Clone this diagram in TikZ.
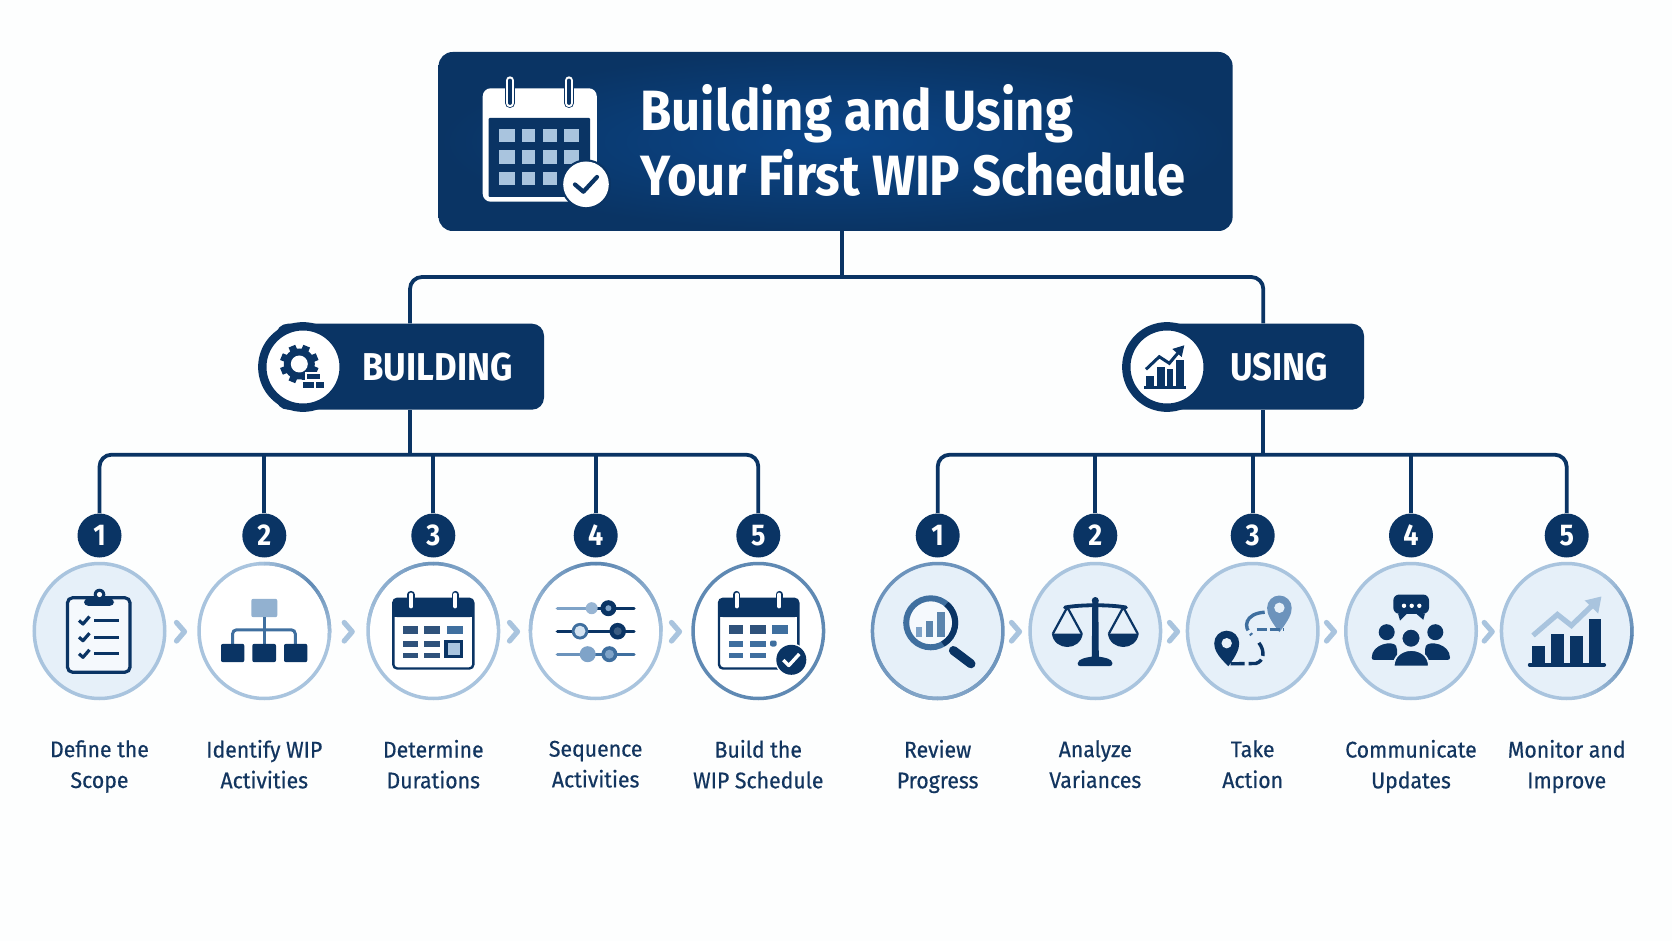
\documentclass[tikz,border=0pt]{standalone}
\usepackage{fontspec}
\usetikzlibrary{shapes.geometric}
\newfontfamily\lblfont{Fira Sans}[FakeStretch=0.94,FakeBold=0.5]
\newfontfamily\headfont{Fira Sans}[FakeStretch=0.895]
\definecolor{navy}{HTML}{0A3464}
\definecolor{navyb}{HTML}{0B4689}
\definecolor{midb}{HTML}{3F6F9F}
\definecolor{softb}{HTML}{7FA3C8}
\definecolor{paleb}{HTML}{A9C4DE}
\definecolor{iceb}{HTML}{E6F0F9}
\definecolor{lbl}{HTML}{12355F}
\definecolor{bgc}{HTML}{FDFEFE}
\newcommand\ls{\vphantom{Agy}}
\tikzset{
  conn/.style={draw=navy,line width=1.9pt},
  headbox/.style={rectangle,rounded corners=7pt,minimum width=397pt,minimum height=89.5pt,inner sep=0pt,inner color=navyb,outer color=navy},
  barbox/.style={rectangle,fill=navy,rounded corners=6pt,minimum height=43pt,inner sep=0pt},
  ringbox/.style={circle,fill=white,draw=navy,line width=4.2pt,minimum size=40.7pt,inner sep=0pt},
  numbox/.style={circle,fill=navy,text=white,minimum size=22pt,inner sep=0pt,font=\headfont\bfseries\fontsize{15}{15}\selectfont},
  bigbox/.style={ellipse,minimum width=65.25pt,minimum height=67.5pt,inner sep=0pt,line width=1.75pt},
  lblbox/.style={align=center,text=lbl,inner sep=0pt,font=\lblfont\fontsize{11.3}{15.4}\selectfont},
  bartext/.style={anchor=base,text=white,inner sep=0pt,font=\headfont\bfseries\fontsize{19.4}{20}\selectfont},
  titletext/.style={anchor=base west,text=white,inner sep=0pt,font=\headfont\bfseries\fontsize{28.4}{30}\selectfont},
  chevmark/.style={draw=paleb,line width=2.6pt,line cap=round,line join=round},
}
% gradient accent on a circle's stroke
\newcommand\glowarc[5]{%
  \foreach \i in {-10,...,9}{%
    \pgfmathsetmacro\sa{#2+#3*\i/10}%
    \pgfmathsetmacro\sb{#2+#3*(\i+1)/10+0.5}%
    \pgfmathsetmacro\mx{100*(1-abs(\i+0.5)/10)}%
    \draw[line width=1.75pt,color={#4!\mx!#5}] ({#1+65.25*cos(\sa)},{631+67.5*sin(\sa)}) arc[start angle=\sa,end angle=\sb,x radius=65.25,y radius=67.5];
  }}
\newcommand\chevat[1]{\draw[chevmark] (#1+1.5,622.5) -- (#1+9.5,631.7) -- (#1+1.5,641);}
\newcommand\calrings[2]{%
  \draw[navy,line width=3.6pt,line cap=round] (#1,-37) -- (#1,-25);
  \draw[white,line width=1.9pt,line cap=round] (#1,-37) -- (#1,-25);
  \draw[navy,line width=3.6pt,line cap=round] (#2,-37) -- (#2,-25);
  \draw[white,line width=1.9pt,line cap=round] (#2,-37) -- (#2,-25);}
\newcommand\calbody[2]{%
  \fill[white,rounded corners=2pt] (#1,-32.7) rectangle (#2,37);
  \draw[navy,line width=1.2pt,rounded corners=2pt] (#1,-32.7) rectangle (#2,37);
  \fill[navy,rounded corners=2pt] (#1,-32.7) rectangle (#2,-14.3);
  \fill[navy] (#1,-20) rectangle (#2,-14.3);}
\newcommand\cellbox[5]{\fill[#5] (#1,#2) rectangle (#3,#4);}
\newcommand\pinicon[7]{%
  \fill[#6] (#4,#5) .. controls ({#1-#3*0.75},{#2+#3*1.0}) and ({#1-#3},{#2+#3*0.5}) .. ({#1-#3},#2) arc[start angle=180,end angle=360,radius=#3] .. controls ({#1+#3},{#2+#3*0.5}) and ({#1+#3*0.75},{#2+#3*1.0}) .. (#4,#5) -- cycle;
  \fill[#7] (#1,#2) circle[radius=5.2];}
\newcommand\scalepan[1]{%
  \draw[navy,line width=1.1pt,line join=round] (#1-14.5,2.3) -- (#1,-24.3) -- (#1+14.5,2.3);
  \fill[navy] (#1-15.5,2) .. controls (#1-13,20) and (#1+13,20) .. (#1+15.5,2) -- cycle;}
\newcommand\iconclip{%
  \fill[white!60!iceb,rounded corners=2pt] (-32,-33.7) rectangle (30.5,40.7);
  \draw[navy,line width=1.6pt,rounded corners=2.5pt] (-32,-33.7) rectangle (30.5,40.7);
  \fill[navy,rounded corners=2pt] (-15.5,-33) rectangle (14.5,-25.7);
  \fill[navy] (0,-37) circle[radius=5.8];
  \fill[white] (0,-37) circle[radius=2.6];
  \foreach \y in {-11,5.7,22.3}{%
    \draw[navy,line width=1.6pt,line join=round] (-20.5,\y) -- (-16.5,\y+3.5) -- (-10,\y-4);
    \draw[navy,line width=1.6pt] (-5.5,\y) -- (19.5,\y);}
}
\newcommand\iconorg{%
  \fill[softb!85!white,rounded corners=1pt] (-13,-32.7) rectangle (13,-14.3);
  \draw[midb,line width=1.5pt] (0,-14.3) -- (0,12.3);
  \draw[midb,line width=1.5pt,rounded corners=2pt] (-31.7,12.3) -- (-31.7,-1.7) -- (31,-1.7) -- (31,12.3);
  \foreach \a/\b in {-43.3/-20,-12/11.7,19.7/43}{\fill[navy,rounded corners=1pt] (\a,12.3) rectangle (\b,30.7);}
}
\newcommand\iconcala{%
  \calbody{-40}{40}\calrings{-22.3}{22}
  \foreach \a/\b/\c in {-30/-15.3/navy!85!white,-9.3/6.7/navy!85!white,13.3/30/midb}{\cellbox{\a}{-6}{\b}{2.3}{\c}}
  \foreach \a/\b in {-30/-15.3,-9.3/6.7}{\cellbox{\a}{9}{\b}{15}{navy!85!white}\cellbox{\a}{21}{\b}{26.7}{navy!85!white}}
  \fill[navy] (11,8) rectangle (30,26.7);
  \fill[paleb] (14.5,11.5) rectangle (26.5,23.2);
}
\newcommand\iconsliders{%
  \draw[softb,line width=1.7pt,line cap=round] (-38.3,-23.3) -- (0,-23.3);
  \draw[navy,line width=1.7pt,line cap=round] (0,-23.3) -- (38.3,-23.3);
  \fill[softb!80!white] (-4,-23.3) circle[radius=6];
  \fill[navy] (12.7,-23.3) circle[radius=8]; \fill[softb] (12.7,-23.3) circle[radius=3];
  \draw[navy,line width=1.7pt,line cap=round] (-38.3,-0.3) -- (38.3,-0.3);
  \fill[midb] (-15.7,-0.3) circle[radius=8.3]; \fill[iceb!70!paleb] (-15.7,-0.3) circle[radius=5.5];
  \fill[navy] (22,-0.3) circle[radius=8.3]; \fill[navy!80!white] (22,-0.3) circle[radius=4];
  \draw[softb!70!midb,line width=1.7pt,line cap=round] (-38.3,22.7) -- (0,22.7);
  \draw[midb,line width=1.7pt,line cap=round] (0,22.7) -- (38.3,22.7);
  \fill[softb] (-8,22.7) circle[radius=8];
  \fill[midb] (13.7,22.7) circle[radius=8]; \fill[softb] (13.7,22.7) circle[radius=4.5];
}
\newcommand\iconcalb{%
  \calbody{-39.3}{40}\calrings{-21.7}{21}
  \foreach \a/\b/\c in {-29.3/-15/navy!85!white,-8.3/7.7/navy!85!white,13.7/29.3/midb}{\cellbox{\a}{-6.5}{\b}{2.3}{\c}}
  \foreach \a/\b in {-29.3/-15,-8.3/7.7}{\cellbox{\a}{9}{\b}{15}{midb}\cellbox{\a}{21}{\b}{26.7}{midb}}
  \fill[midb,rounded corners=1pt] (11.7,9) rectangle (18.3,15);
  \fill[white] (33,28.3) circle[radius=16.5];
  \fill[navy] (33,28.3) circle[radius=15];
  \draw[white,line width=1.7pt,line join=round] (25,28.5) -- (30.5,34) -- (41,22.5);
}
\newcommand\iconlens{%
  \fill[white!60!iceb] (-7,-8.7) circle[radius=25];
  \draw[navy,line width=4.5pt,line cap=round] (15.7,19) -- (33.3,32.3);
  \draw[midb,line width=3pt] (-7,-8.7) circle[radius=24.5];
  \draw[navy,line width=3pt] (-7,-8.7) ++(-50:24.5) arc[start angle=-50,end angle=60,radius=24.5];
  \fill[softb] (-22,-4.3) rectangle (-15.3,5);
  \fill[midb!85!white] (-11.7,-11) rectangle (-4.3,5);
  \fill[midb!85!white] (-0.7,-19.3) rectangle (7,5);
}
\newcommand\iconscales{%
  \scalepan{-28}\scalepan{28}
  \draw[navy,line width=1.9pt,line cap=round] (-30.3,-24) .. controls (-15,-27) and (15,-27) .. (30.7,-24);
  \fill[navy] (0,-31) circle[radius=3.5];
  \fill[navy] (-3,-31) -- (3,-31) -- (3.5,26) -- (-3.5,26) -- cycle;
  \fill[navy,rounded corners=1.5pt] (-18,34.7) .. controls (-17,27) and (-8,26) .. (-4,25) -- (4,25) .. controls (8,26) and (17,27) .. (17.3,34.7) -- cycle;
}
\newcommand\iconroute{%
  \pinicon{26.7}{-23.7}{12.3}{26.7}{0.7}{softb!70!midb}{iceb}
  \pinicon{-26}{11.7}{12.5}{-24.3}{34.7}{navy}{iceb}
  \draw[navy,line width=1.7pt,dash pattern=on 7pt off 2pt] (-22,32.3) -- (3,32) .. controls (11,30) and (13,20) .. (6,11);
  \draw[midb,line width=1.7pt,dash pattern=on 15pt off 2pt] (12,-19.3) .. controls (-8,-18) and (-10,-4) .. (-1,3.5);
  \draw[midb,line width=1.5pt,dash pattern=on 5pt off 1.5pt] (4,-2) -- (31,-2);
}
\newcommand\iconteam{%
  \fill[navy,rounded corners=3pt] (-17.7,-37) rectangle (18,-17.7);
  \fill[navy] (-13,-18) -- (-11,-11) -- (-4,-18) -- cycle;
  \fill[navy] (14,-18) -- (12.3,-11.7) -- (5,-18) -- cycle;
  \foreach \x in {-7,0.7,8.3}{\fill[white] (\x,-25.7) circle[radius=2.2];}
  \fill[navy] (-24.3,0.7) circle[radius=8];
  \fill[navy] (24.3,0.7) circle[radius=8];
  \fill[navy,rounded corners=1pt] (-39.3,28.3) .. controls (-39.3,12) and (-18,9) .. (-14,16) -- (-14,28.3) -- cycle;
  \fill[navy,rounded corners=1pt] (39,28.3) .. controls (39,12) and (18,9) .. (14,16) -- (14,28.3) -- cycle;
  \fill[navy,draw=iceb,line width=0.9pt] (0,6.7) circle[radius=9.5];
  \fill[navy,draw=iceb,line width=0.9pt] (-17.4,35) .. controls (-17.4,13) and (18,13) .. (18,35) -- cycle;
}
\newcommand\iconchart{%
  \foreach \a/\b/\t in {-34.3/-21.3/14.7,-15.3/-3/2.3,3.7/16.3/4.7,22/34.7/-12.7}{\fill[navy] (\a,\t) rectangle (\b,33);}
  \draw[navy,line width=1.9pt,line cap=round] (-37,33.3) -- (37.5,33.3);
  \draw[paleb,line width=2.6pt] (-33.7,4) -- (-9.3,-17) -- (4.7,-6) -- (27,-27.5);
  \fill[paleb] (34.7,-35) -- (31.5,-18) -- (18,-31) -- cycle;
}
\newcommand\stepitem[8]{% name, x, number, circle opts, line 1, line 2, icon, accent
  \node[numbox] (num#1) at (#2,535.5) {#3};
  \node[bigbox,#4] (big#1) at (#2,631) {};
  #8
  \begin{scope}[shift={(#2,631.5)}]#7\end{scope}
  \node[lblbox] (lbl#1) at (#2,766.5) {\ls #5\\\ls #6};
}
\begin{document}
\begin{tikzpicture}[x=0.5pt,y=-0.5pt]
\useasboundingbox (0,0) rectangle (1672,941);
\fill[bgc] (0,0) rectangle (1672,941);
% header
\node[headbox] (hd) at (835.6,141.5) {};
\node[titletext] (t1) at (640,131) {Building and Using};
\node[titletext] (t2) at (640,196) {Your First WIP Schedule};
% header calendar icon
\fill[white,rounded corners=4pt] (482.7,88.3) rectangle (596.8,201.7);
\fill[navy,rounded corners=0.5pt] (488.6,118) rectangle (590,197);
\foreach \a/\b in {498.7/514.8,521.8/535.2,543/556.6,563.5/579}{\foreach \c/\d in {129/142.3,150/164.3,171.7/185}{\fill[paleb] (\a,\c) rectangle (\b,\d);}}
\foreach \x in {510,569}{\draw[navy,line width=5pt,line cap=round] (\x,80.5) -- (\x,103); \draw[white,line width=4.2pt,line cap=round] (\x,80.5) -- (\x,103); \draw[navy,line width=1.9pt,line cap=round] (\x,80.5) -- (\x,103);}
\fill[navy] (586,184.3) circle[radius=25];
\fill[white] (586,184.3) circle[radius=22.8];
\draw[navy,line width=2.1pt,line cap=round,line join=round] (575,184.5) -- (583.4,191.7) -- (597,177);
% connector anchors
\coordinate (hdstem) at (842,231);
\coordinate (topbus) at (842,277);
\coordinate (lowbus) at (842,454.7);
% bars
\node[barbox,minimum width=134pt] (barb) at (410,366.7) {};
\node[barbox,minimum width=100.7pt] (baru) at (1263.3,366.7) {};
\draw[conn,rounded corners=6pt] (barb.north) -- (barb.north |- topbus) -- (baru.north |- topbus) -- (baru.north);
\draw[conn] (hdstem) -- (topbus);
\node[ringbox] (ringb) at (303,367) {};
\node[ringbox] (ringu) at (1167,367) {};
\node[bartext] (bt) at (437.5,380) {BUILDING};
\node[bartext] (ut) at (1279,380) {USING};
% gear + bricks
\begin{scope}[shift={(299.3,364)}]
  \foreach \a in {0,45,...,315}{\fill[navy,rotate=\a+22.5] (-3.6,-19.3) rectangle (3.6,-10);}
  \fill[navy] (0,0) circle[radius=15.5];
  \fill[white] (0,0) circle[radius=8.5];
  \fill[white] (5.4,8) rectangle (22.7,17);
  \fill[white] (2,16) rectangle (26.7,26.3);
  \fill[navy] (7.4,10) rectangle (20.7,15.3);
  \fill[navy] (4,17.7) rectangle (14.7,24.3);
  \fill[navy] (16.7,17.7) rectangle (24.7,24.3);
\end{scope}
% chart icon in USING
\begin{scope}[shift={(1166,367)}]
  \foreach \a/\b/\t in {-20/-11.7/9,-8.7/-1/0.3,1.3/7.3/2.3,9.7/18.3/-7}{\fill[navy] (\a,\t) rectangle (\b,20.3);}
  \draw[navy,line width=1.3pt] (-21.7,20.6) -- (20,20.6);
  \draw[navy,line width=1.5pt] (-20,2.3) -- (-6.7,-10.3) -- (3.3,-3.7) -- (14,-16.5);
  \fill[navy] (18.3,-21.7) -- (15.7,-10) -- (6.3,-18) -- cycle;
\end{scope}
% steps
\stepitem{a}{99.5}{1}{fill=iceb,draw=paleb}{Define the}{Scope}{\iconclip}{}
\stepitem{b}{264.3}{2}{fill=white,draw=paleb}{Identify WIP}{Activities}{\iconorg}{\glowarc{264.3}{-45}{50}{softb!50!midb}{paleb}}
\stepitem{c}{433.3}{3}{fill=white,draw=paleb}{Determine}{Durations}{\iconcala}{\glowarc{433.3}{-90}{85}{softb!70!midb}{paleb}}
\stepitem{d}{595.7}{4}{fill=white,draw=paleb}{Sequence}{Activities}{\iconsliders}{\glowarc{595.7}{-90}{90}{softb!40!midb}{paleb}}
\stepitem{e}{758.3}{5}{fill=white,draw=softb!50!midb}{Build the}{WIP Schedule}{\iconcalb}{}
\stepitem{f}{937.7}{1}{fill=iceb,draw=softb!70!midb}{Review}{Progress}{\iconlens}{\glowarc{937.7}{90}{70}{paleb}{softb!70!midb}}
\stepitem{g}{1095.3}{2}{fill=iceb,draw=paleb}{Analyze}{Variances}{\iconscales}{}
\stepitem{h}{1252.7}{3}{fill=iceb,draw=paleb}{Take}{Action}{\iconroute}{}
\stepitem{i}{1411}{4}{fill=iceb,draw=paleb}{Communicate}{Updates}{\iconteam}{}
\stepitem{j}{1566.7}{5}{fill=iceb,draw=paleb}{Monitor and}{Improve}{\iconchart}{\glowarc{1566.7}{10}{65}{softb!40!midb}{paleb}}
% buses
\draw[conn] (barb.south) -- (barb.south |- lowbus);
\draw[conn] (baru.south) -- (baru.south |- lowbus);
\draw[conn,rounded corners=6pt] (numa.north) -- (numa.north |- lowbus) -- (nume.north |- lowbus) -- (nume.north);
\draw[conn] (numb.north) -- (numb.north |- lowbus);
\draw[conn] (numc.north) -- (numc.north |- lowbus);
\draw[conn] (numd.north) -- (numd.north |- lowbus);
\draw[conn,rounded corners=6pt] (numf.north) -- (numf.north |- lowbus) -- (numj.north |- lowbus) -- (numj.north);
\draw[conn] (numg.north) -- (numg.north |- lowbus);
\draw[conn] (numh.north) -- (numh.north |- lowbus);
\draw[conn] (numi.north) -- (numi.north |- lowbus);
% chevrons
\foreach \x in {175,342.7,508,670,1010,1168,1325,1482.7}{\chevat{\x}}
\end{tikzpicture}
\end{document}
